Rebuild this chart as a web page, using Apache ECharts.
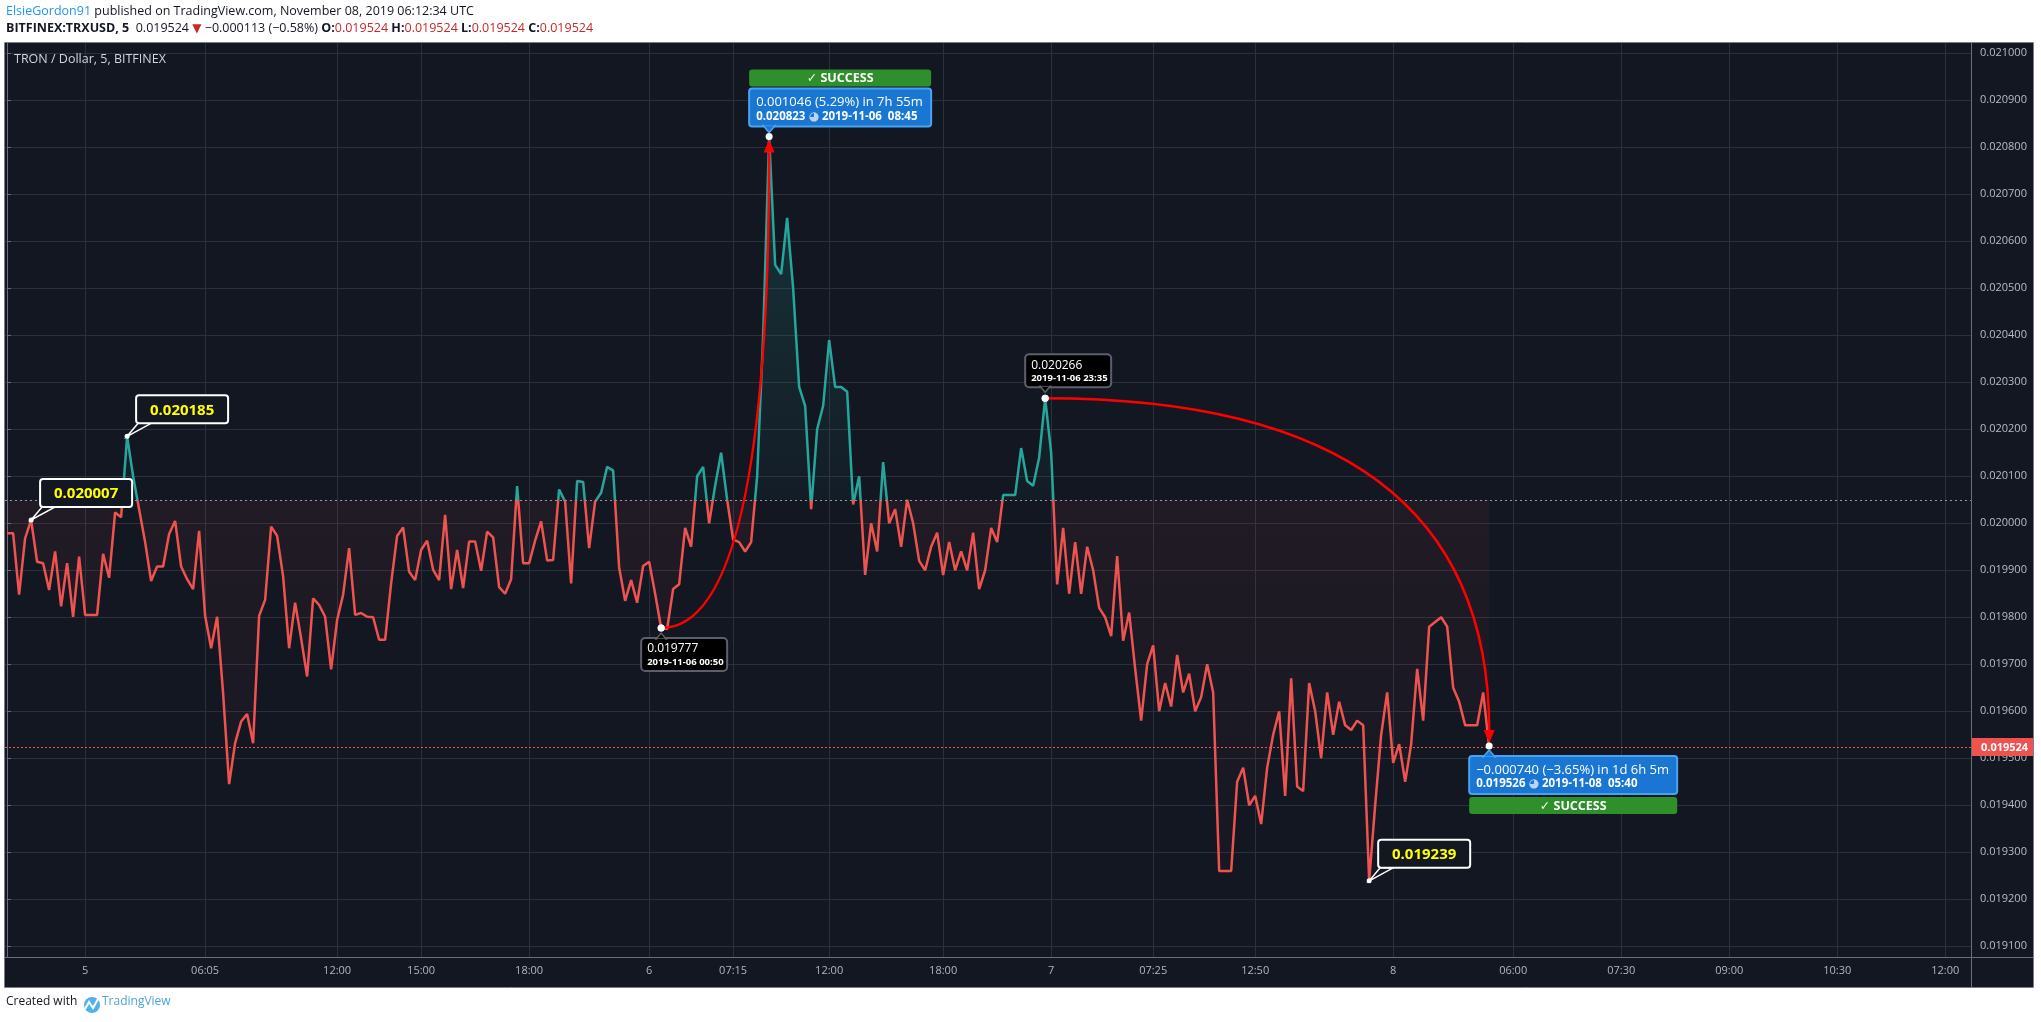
<!DOCTYPE html>
<html>
<head>
<meta charset="utf-8">
<title>TRXUSD 5m</title>
<script src="https://cdn.jsdelivr.net/npm/echarts@6/dist/echarts.min.js"></script>
<style>
  html, body { margin: 0; padding: 0; background: #ffffff; }
  #chart { width: 2041px; height: 1022px; }
</style>
</head>
<body>
<div id="chart"></div>
<script>
// close price of each traded 5 min bar, by bar index
const prices = [
  0.019979, 0.019979, 0.019848, 0.019968, 0.020007, 0.019918, 0.019915, 0.019858, 0.019940, 0.019823,
  0.019915, 0.019801, 0.019929, 0.019805, 0.019805, 0.019805, 0.019935, 0.019884, 0.020023, 0.020013,
  0.020185, 0.020100, 0.020030, 0.019960, 0.019877, 0.019908, 0.019908, 0.019977, 0.020005, 0.019908,
  0.019881, 0.019860, 0.019984, 0.019803, 0.019734, 0.019801, 0.019638, 0.019445, 0.019532, 0.019578,
  0.019594, 0.019532, 0.019803, 0.019837, 0.019993, 0.019973, 0.019887, 0.019734, 0.019831, 0.019755,
  0.019674, 0.019840, 0.019826, 0.019801, 0.019689, 0.019794, 0.019848, 0.019947, 0.019805, 0.019809,
  0.019801, 0.019800, 0.019752, 0.019752, 0.019872, 0.019973, 0.019991, 0.019897, 0.019879, 0.019943,
  0.019963, 0.019901, 0.019879, 0.020018, 0.019860, 0.019943, 0.019862, 0.019961, 0.019961, 0.019899,
  0.019982, 0.019970, 0.019864, 0.019850, 0.019881, 0.020079, 0.019915, 0.019915, 0.019963, 0.020004,
  0.019921, 0.019922, 0.020072, 0.020046, 0.019872, 0.020090, 0.020088, 0.019947, 0.020046, 0.020065,
  0.020120, 0.020112, 0.019906, 0.019835, 0.019879, 0.019831, 0.019909, 0.019918, 0.019850, 0.019777,
  0.019775, 0.019860, 0.019870, 0.019990, 0.019950, 0.020100, 0.020120, 0.020000, 0.020080, 0.020150,
  0.020050, 0.019965, 0.019960, 0.019940, 0.019960, 0.020100, 0.020400, 0.020823, 0.020550, 0.020530,
  0.020650, 0.020500, 0.020290, 0.020250, 0.020030, 0.020200, 0.020250, 0.020390, 0.020290, 0.020290,
  0.020280, 0.020040, 0.020100, 0.019890, 0.020000, 0.019940, 0.020130, 0.020000, 0.020030, 0.019950,
  0.020050, 0.020000, 0.019920, 0.019900, 0.019950, 0.019980, 0.019890, 0.019960, 0.019900, 0.019940,
  0.019900, 0.019980, 0.019860, 0.019900, 0.019990, 0.019960, 0.020060, 0.020060, 0.020060, 0.020160,
  0.020090, 0.020080, 0.020140, 0.020266, 0.020150, 0.019870, 0.019990, 0.019850, 0.019960, 0.019850,
  0.019950, 0.019900, 0.019820, 0.019800, 0.019760, 0.019930, 0.019750, 0.019810, 0.019690, 0.019580,
  0.019700, 0.019740, 0.019600, 0.019660, 0.019610, 0.019720, 0.019640, 0.019680, 0.019600, 0.019630,
  0.019700, 0.019640, 0.019260, 0.019260, 0.019260, 0.019450, 0.019480, 0.019400, 0.019420, 0.019360,
  0.019480, 0.019550, 0.019600, 0.019420, 0.019670, 0.019440, 0.019430, 0.019660, 0.019600, 0.019500,
  0.019640, 0.019550, 0.019620, 0.019570, 0.019560, 0.019580, 0.019570, 0.019239, 0.019400, 0.019550,
  0.019640, 0.019490, 0.019530, 0.019450, 0.019530, 0.019690, 0.019580, 0.019780, 0.019790, 0.019800,
  0.019780, 0.019650, 0.019620, 0.019570, 0.019570, 0.019570, 0.019640, 0.019524
];

// time scale labels (bar index -> text)
const xTickIndex = [13, 33, 55, 69, 87, 107, 121, 137, 156, 174, 191, 208, 231, 251, 269, 287, 305, 323];
const xTickText = ['5', '06:05', '12:00', '15:00', '18:00', '6', '07:15', '12:00', '18:00', '7',
  '07:25', '12:50', '8', '06:00', '07:30', '09:00', '10:30', '12:00'];
const yTicks = [0.0191, 0.0192, 0.0193, 0.0194, 0.0195, 0.0196, 0.0197, 0.0198, 0.0199, 0.0200,
  0.0201, 0.0202, 0.0203, 0.0204, 0.0205, 0.0206, 0.0207, 0.0208, 0.0209, 0.0210];

const baseline = 0.02005;   // baseline style split level
const lastPrice = 0.019524;

// annotations
const priceCallouts = [[4, 0.020007], [20, 0.020185], [227, 0.019239]];
const infoPoints = [[109, 0.019777], [173, 0.020266]];
const infoDates = ['2019-11-06 00:50', '2019-11-06 23:35'];
const infoPlacement = ['below', 'above'];
const measures = [[109, 0.019777, 127, 0.020823], [173, 0.020266, 247, 0.019526]];
const measureSpan = ['7h 55m', '1d 6h 5m'];
const measureDates = ['2019-11-06  08:45', '2019-11-08  05:40'];

const FONT = '"Open Sans", "DejaVu Sans", sans-serif';
const RED = '#ef5350';
const TEAL = '#26a69a';
const BG = '#131722';

const chart = echarts.init(document.getElementById('chart'));

const lineData = prices.map((p, i) => [i, p]);
const pMax = Math.max(...prices);
const pMin = Math.min(...prices);
const splitAt = (pMax - baseline) / (pMax - pMin);

const measureCtx = document.createElement('canvas').getContext('2d');
function textWidth(str, font) {
  measureCtx.font = font;
  return measureCtx.measureText(str).width;
}
function signed(v) {
  return v < 0 ? '\u2212' + Math.abs(v).toFixed(6) : v.toFixed(6);
}
function signedPct(v) {
  return v < 0 ? '\u2212' + Math.abs(v).toFixed(2) : v.toFixed(2);
}

// yellow price labels with a little tail
function renderCallout(params, api) {
  const p = api.coord([api.value(0), api.value(1)]);
  const bw = 92, bh = 28;
  const bx = p[0] + 9, by = p[1] - 41;
  return {
    type: 'group',
    children: [
      { type: 'polygon', shape: { points: [[p[0], p[1]], [bx + 2, by + bh], [bx + 15, by + bh]] },
        style: { fill: BG, stroke: '#ffffff', lineWidth: 1.5 } },
      { type: 'rect', shape: { x: bx, y: by, width: bw, height: bh, r: 3 },
        style: { fill: BG, stroke: '#ffffff', lineWidth: 2 } },
      { type: 'text', style: { x: bx + bw / 2, y: by + bh / 2 + 1, text: api.value(1).toFixed(6),
        fill: '#ffff00', font: 'bold 15px ' + FONT, align: 'center', verticalAlign: 'middle' } },
      { type: 'circle', shape: { cx: p[0], cy: p[1], r: 2.5 }, style: { fill: '#ffffff' } }
    ]
  };
}

// black price / date boxes
function renderInfo(params, api) {
  const i = params.dataIndex;
  const p = api.coord([api.value(0), api.value(1)]);
  const bw = 86, bh = 33;
  const bx = p[0] - 20;
  const below = infoPlacement[i] === 'below';
  const by = below ? p[1] + 10 : p[1] - 11 - bh;
  const notch = below
    ? [[p[0] - 5, by + 1], [p[0] + 5, by + 1], [p[0], by - 5]]
    : [[p[0] - 5, by + bh - 1], [p[0] + 5, by + bh - 1], [p[0], by + bh + 5]];
  return {
    type: 'group',
    children: [
      { type: 'rect', shape: { x: bx, y: by, width: bw, height: bh, r: 4 },
        style: { fill: '#000000', stroke: '#5d606b', lineWidth: 2 } },
      { type: 'polygon', shape: { points: notch }, style: { fill: '#000000', stroke: '#5d606b', lineWidth: 1.5 } },
      { type: 'rect', shape: { x: p[0] - 4, y: below ? by + 1 : by + bh - 3, width: 8, height: 2 },
        style: { fill: '#000000' } },
      { type: 'text', style: { x: bx + 6, y: by + 11, text: api.value(1).toFixed(6),
        fill: '#ffffff', font: '12px ' + FONT, verticalAlign: 'middle' } },
      { type: 'text', style: { x: bx + 6, y: by + 24, text: infoDates[i],
        fill: '#ffffff', font: 'bold 9.5px ' + FONT, verticalAlign: 'middle' } },
      { type: 'circle', shape: { cx: p[0], cy: p[1], r: 3.5 }, style: { fill: '#ffffff' } }
    ]
  };
}

// red curved arrows with the measure box and SUCCESS bar
function renderMeasure(params, api) {
  const i = params.dataIndex;
  const a = api.coord([api.value(0), api.value(1)]);
  const b = api.coord([api.value(2), api.value(3)]);
  const up = b[1] < a[1];
  const dir = up ? 1 : -1;
  const tipY = b[1] + dir * 3;
  const baseY = tipY + dir * 13;

  const diff = api.value(3) - api.value(1);
  const line1 = signed(diff) + ' (' + signedPct(diff / api.value(1) * 100) + '%) in ' + measureSpan[i];
  const line2 = api.value(3).toFixed(6) + ' {c|\u25D5} ' + measureDates[i];
  const f1 = '13px ' + FONT;
  const bw = Math.round(textWidth(line1, f1)) + 15;
  const bh = 38;
  const bx = b[0] - 20;
  const by = up ? b[1] - 10 - bh : b[1] + 10;
  const gy = up ? by - 19 : by + bh + 3;
  const notch = up
    ? [[b[0] - 6, by + bh - 1], [b[0] + 6, by + bh - 1], [b[0], by + bh + 6]]
    : [[b[0] - 6, by + 1], [b[0] + 6, by + 1], [b[0], by - 6]];

  return {
    type: 'group',
    children: [
      { type: 'bezierCurve', shape: { x1: a[0], y1: a[1], x2: b[0], y2: baseY, cpx1: b[0], cpy1: a[1] },
        style: { stroke: '#ff0000', lineWidth: 2.5, fill: null } },
      { type: 'polygon', shape: { points: [[b[0], tipY], [b[0] - 5.5, baseY], [b[0] + 5.5, baseY]] },
        style: { fill: '#ff0000' } },
      { type: 'circle', shape: { cx: a[0], cy: a[1], r: 3.5 }, style: { fill: '#ffffff' } },
      { type: 'circle', shape: { cx: b[0], cy: b[1], r: 3.5 }, style: { fill: '#ffffff' } },
      { type: 'rect', shape: { x: bx, y: gy, width: bw, height: 17, r: 3 },
        style: { fill: '#2f8f2a' } },
      { type: 'text', style: { x: bx + bw / 2, y: gy + 9, text: '\u2713 SUCCESS', fill: '#ffffff',
        font: 'bold 12.5px ' + FONT, align: 'center', verticalAlign: 'middle' } },
      { type: 'rect', shape: { x: bx, y: by, width: bw, height: bh, r: 3 },
        style: { fill: '#1976d2', stroke: '#4aa3f0', lineWidth: 2 } },
      { type: 'polygon', shape: { points: notch }, style: { fill: '#1976d2', stroke: '#4aa3f0', lineWidth: 1.5 } },
      { type: 'rect', shape: { x: b[0] - 5, y: up ? by + bh - 3 : by + 1, width: 10, height: 2 },
        style: { fill: '#1976d2' } },
      { type: 'text', style: { x: bx + 7, y: by + 14, text: line1, fill: '#ffffff', font: f1, verticalAlign: 'middle' } },
      { type: 'text', style: { x: bx + 7, y: by + 28, text: line2, fill: '#ffffff', font: 'bold 11.5px ' + FONT,
        verticalAlign: 'middle', rich: { c: { fill: '#b9d4f2', font: '12px "DejaVu Sans"' } } } }
    ]
  };
}

// last price tag on the price scale
function renderTag(params, api) {
  const y = api.coord([0, api.value(1)])[1];
  const x = params.coordSys.x + params.coordSys.width;
  return {
    type: 'group',
    children: [
      { type: 'rect', shape: { x: x, y: y - 9, width: 63, height: 18 }, style: { fill: RED } },
      { type: 'text', style: { x: x + 10, y: y + 0.5, text: api.value(1).toFixed(6), fill: '#ffffff',
        font: 'bold 11px ' + FONT, verticalAlign: 'middle' } }
    ]
  };
}

const option = {
  animation: false,
  backgroundColor: '#ffffff',
  grid: {
    left: 5, right: 70, top: 43, bottom: 65,
    show: true, backgroundColor: BG, borderWidth: 0
  },
  xAxis: {
    type: 'value',
    min: -0.35,
    max: 327.3,
    axisLine: { show: true, lineStyle: { color: '#6b6e79', width: 1 } },
    axisTick: { show: false, customValues: xTickIndex },
    axisLabel: {
      customValues: xTickIndex,
      formatter: v => xTickText[xTickIndex.indexOf(v)],
      color: '#b2b5be', fontSize: 11, fontFamily: FONT, margin: 8
    },
    splitLine: { show: true, lineStyle: { color: '#2c303c', width: 1 } }
  },
  yAxis: {
    type: 'value',
    position: 'right',
    min: 0.019077,
    max: 0.021022,
    axisLine: { show: true, lineStyle: { color: '#6b6e79', width: 1 } },
    axisTick: { show: true, customValues: yTicks, length: 4, lineStyle: { color: '#6b6e79' } },
    axisLabel: {
      customValues: yTicks,
      formatter: v => v.toFixed(6),
      color: '#b8bcc6', fontSize: 11, fontFamily: FONT, margin: 9
    },
    splitLine: { show: true, lineStyle: { color: '#2c303c', width: 1 } }
  },
  visualMap: {
    type: 'piecewise',
    show: false,
    seriesIndex: 0,
    dimension: 1,
    pieces: [
      { gte: 0.018, lt: baseline, color: RED },
      { gte: baseline, lte: 0.022, color: TEAL }
    ]
  },
  graphic: [
    // axis strips and frame
    { type: 'rect', shape: { x: 1971, y: 43, width: 62, height: 944 }, style: { fill: BG } },
    { type: 'rect', shape: { x: 5, y: 957, width: 1966, height: 30 }, style: { fill: BG } },
    { type: 'line', shape: { x1: 1971.5, y1: 43, x2: 1971.5, y2: 987 }, style: { stroke: '#6b6e79', lineWidth: 1 }, z: 10 },
    { type: 'line', shape: { x1: 5, y1: 957.5, x2: 2033, y2: 957.5 }, style: { stroke: '#6b6e79', lineWidth: 1 }, z: 10 },
    { type: 'rect', shape: { x: 4.5, y: 42.5, width: 2029, height: 945 }, style: { fill: null, stroke: '#7b7e89', lineWidth: 1 }, z: 10 },
    // header
    { type: 'text', x: 6, y: 5, style: {
        text: '{u|ElsieGordon91} published on TradingView.com, November 08, 2019 06:12:34 UTC',
        fill: '#131722', font: '12.5px ' + FONT,
        rich: { u: { fill: '#2196f3', font: '12.5px ' + FONT } } } },
    { type: 'text', x: 6, y: 22, style: {
        text: '{b|BITFINEX:TRXUSD, 5}  0.019524 {t|\u25BC} \u22120.000113 (\u22120.58%) {b|O:}{r|0.019524} {b|H:}{r|0.019524} {b|L:}{r|0.019524} {b|C:}{r|0.019524}',
        fill: '#131722', font: '12.5px ' + FONT,
        rich: {
          b: { fill: '#131722', font: 'bold 12.5px ' + FONT },
          r: { fill: '#c62828', font: '12.5px ' + FONT },
          t: { fill: '#c62828', font: '12px "DejaVu Sans"' }
        } } },
    // pane title
    { type: 'text', x: 14, y: 53, z: 20, style: { text: 'TRON / Dollar, 5, BITFINEX', fill: '#d1d4dc', font: '12.5px ' + FONT } },
    // footer
    { type: 'text', x: 6, y: 996, style: { text: 'Created with', fill: '#131722', font: '12px ' + FONT } },
    { type: 'circle', shape: { cx: 92, cy: 1005, r: 8 }, style: { fill: '#4fb3ec' } },
    { type: 'polyline', shape: { points: [[85, 1009], [89, 1002], [93, 1008], [98, 999]] },
      style: { stroke: '#ffffff', lineWidth: 2, fill: null } },
    { type: 'text', x: 102, y: 996, style: { text: 'TradingView', fill: '#4fa3d8', font: '12px ' + FONT } }
  ],
  series: [
    {
      name: 'TRXUSD',
      type: 'line',
      data: lineData,
      showSymbol: false,
      symbol: 'none',
      lineStyle: { width: 2.5 },
      areaStyle: {
        origin: baseline,
        color: new echarts.graphic.LinearGradient(0, 0, 0, 1, [
          { offset: 0, color: 'rgba(38,166,154,0.30)' },
          { offset: splitAt, color: 'rgba(38,166,154,0.06)' },
          { offset: splitAt, color: 'rgba(239,83,80,0.09)' },
          { offset: 1, color: 'rgba(239,83,80,0.02)' }
        ])
      },
      markLine: {
        silent: true,
        symbol: 'none',
        precision: 8,
        label: { show: false },
        data: [
          { yAxis: baseline, lineStyle: { color: '#9598a1', type: [2, 3], width: 1 } },
          { yAxis: lastPrice, lineStyle: { color: RED, type: [2, 2], width: 1 } }
        ]
      },
      z: 3
    },
    {
      name: 'callouts', type: 'custom', data: priceCallouts,
      renderItem: renderCallout, clip: false, silent: true, z: 6
    },
    {
      name: 'info', type: 'custom', data: infoPoints,
      renderItem: renderInfo, clip: false, silent: true, z: 6
    },
    {
      name: 'measures', type: 'custom', data: measures,
      dimensions: ['x1', 'y1', 'x2', 'y2'],
      encode: { x: [0, 2], y: [1, 3] },
      renderItem: renderMeasure, clip: false, silent: true, z: 5
    },
    {
      name: 'lastTag', type: 'custom', data: [[0, lastPrice]],
      renderItem: renderTag, clip: false, silent: true, z: 7
    }
  ]
};

chart.setOption(option);
</script>
</body>
</html>
